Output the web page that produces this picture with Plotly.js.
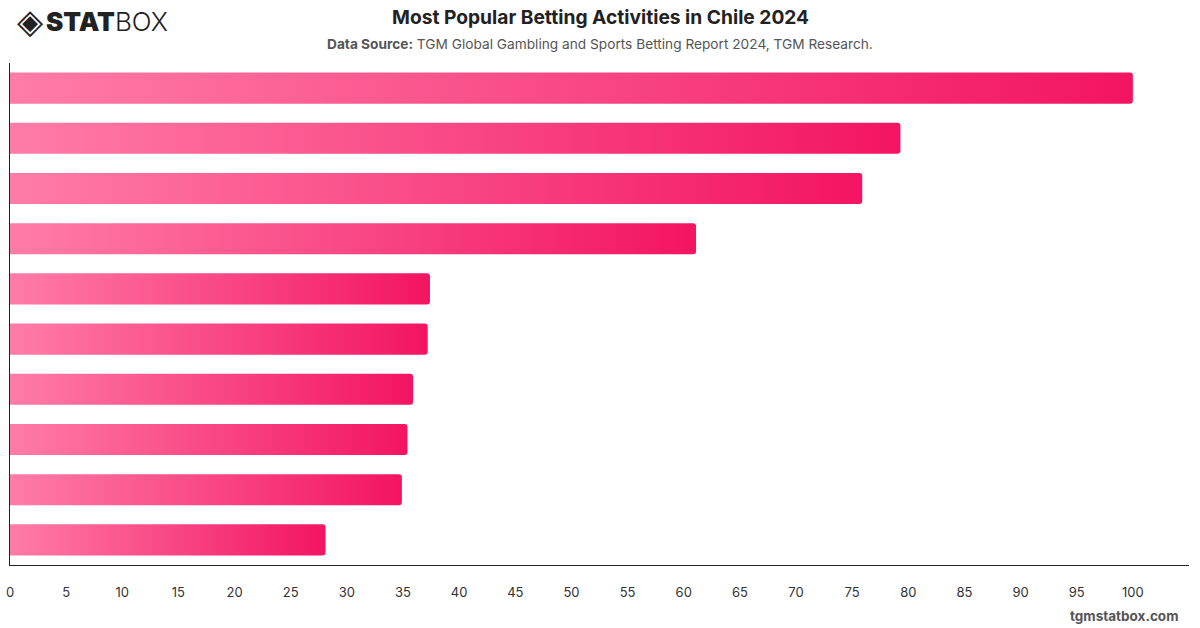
<!DOCTYPE html>
<html>
<head>
<meta charset="utf-8">
<script src="https://cdn.plot.ly/plotly-3.0.1.min.js"></script>
<style>
  html, body { margin: 0; padding: 0; background: #ffffff; }
  #chart { width: 1200px; height: 628px; }
</style>
</head>
<body>
<div id="chart"></div>
<script>
// ---- Data (category names are not shown in the chart) ----
const categories = ["Activity 1", "Activity 2", "Activity 3", "Activity 4", "Activity 5",
                    "Activity 6", "Activity 7", "Activity 8", "Activity 9", "Activity 10"];
const values = [100, 79.3, 75.9, 61.1, 37.4, 37.2, 35.9, 35.4, 34.9, 28.1];
const tickValues = [0, 5, 10, 15, 20, 25, 30, 35, 40, 45, 50, 55, 60, 65, 70, 75, 80, 85, 90, 95, 100];

const chartTitle = "Most Popular Betting Activities in Chile 2024";
const sourceLabel = "Data Source:";
const sourceText = "TGM Global Gambling and Sports Betting Report 2024, TGM Research.";
const siteText = "tgmstatbox.com";

// ---- Layout helpers ----
const W = 1200, H = 628;
const M = { l: 10, r: 11, t: 63, b: 63 };
const pw = W - M.l - M.r, ph = H - M.t - M.b;
const px = x => (x - M.l) / pw;
const py = y => (H - M.b - y) / ph;

const FONT = "Inter, 'Noto Sans', 'DejaVu Sans', sans-serif";

const trace = {
  type: "bar",
  orientation: "h",
  y: categories,
  x: values,
  marker: { color: "#f8467f", cornerradius: 3, line: { width: 0 } },
  hoverinfo: "x",
  showlegend: false
};

const layout = {
  width: W, height: H,
  margin: M,
  paper_bgcolor: "#ffffff",
  plot_bgcolor: "#ffffff",
  font: { family: FONT, color: "#333333", size: 13 },
  bargap: 0.38,
  xaxis: {
    range: [0, 105],
    tickmode: "array",
    tickvals: tickValues,
    ticktext: tickValues.map(String),
    showgrid: false,
    zeroline: false,
    showline: true,
    linecolor: "#222222",
    linewidth: 1.2,
    ticks: "",
    ticklabelstandoff: 15,
    tickfont: { size: 13, color: "#333333", family: FONT },
    fixedrange: true
  },
  yaxis: {
    autorange: "reversed",
    showticklabels: false,
    showgrid: false,
    zeroline: false,
    showline: true,
    linecolor: "#222222",
    linewidth: 1.2,
    ticks: "",
    fixedrange: true
  },
  annotations: [
    { text: "<b>" + chartTitle + "</b>", xref: "paper", yref: "paper",
      x: px(600), y: py(17), xanchor: "center", yanchor: "middle", showarrow: false,
      font: { size: 19.2, color: "#222222", family: FONT } },
    { text: "<b>" + sourceLabel + "</b> " + sourceText, xref: "paper", yref: "paper",
      x: px(600), y: py(44), xanchor: "center", yanchor: "middle", showarrow: false,
      font: { size: 13.7, color: "#555555", family: FONT } },
    { text: "<b>" + siteText + "</b>", xref: "paper", yref: "paper",
      x: px(1180), y: py(616), xanchor: "right", yanchor: "middle", showarrow: false,
      font: { size: 13.5, color: "#555555", family: FONT } },
    { text: "◈", xref: "paper", yref: "paper",
      x: px(30), y: py(21), xanchor: "center", yanchor: "middle", showarrow: false,
      font: { size: 34, color: "#222222", family: "'DejaVu Sans', sans-serif" } },
    { text: "<span style='font-weight:900'>STAT</span><span style='font-weight:300'>BOX</span>", xref: "paper", yref: "paper",
      x: px(44), y: py(21), xanchor: "left", yanchor: "middle", showarrow: false,
      font: { size: 26, color: "#222222", family: FONT } }
  ]
};

Plotly.newPlot("chart", [trace], layout, { displayModeBar: false, staticPlot: true }).then(gd => {
  // horizontal gradient fill for every bar (light pink on the left, deep pink at the end)
  const svg = gd.querySelector(".main-svg");
  const ns = "http://www.w3.org/2000/svg";
  let defs = svg.querySelector("defs");
  if (!defs) { defs = document.createElementNS(ns, "defs"); svg.insertBefore(defs, svg.firstChild); }
  const grad = document.createElementNS(ns, "linearGradient");
  grad.setAttribute("id", "barGrad");
  grad.setAttribute("x1", "0"); grad.setAttribute("y1", "0");
  grad.setAttribute("x2", "1"); grad.setAttribute("y2", "0");
  [["0", "#ff7ca8"], ["1", "#f31462"]].forEach(([o, c]) => {
    const s = document.createElementNS(ns, "stop");
    s.setAttribute("offset", o); s.setAttribute("stop-color", c);
    grad.appendChild(s);
  });
  defs.appendChild(grad);
  gd.querySelectorAll(".bars .point path").forEach(p => { p.style.fill = "url(#barGrad)"; });
});
</script>
</body>
</html>
